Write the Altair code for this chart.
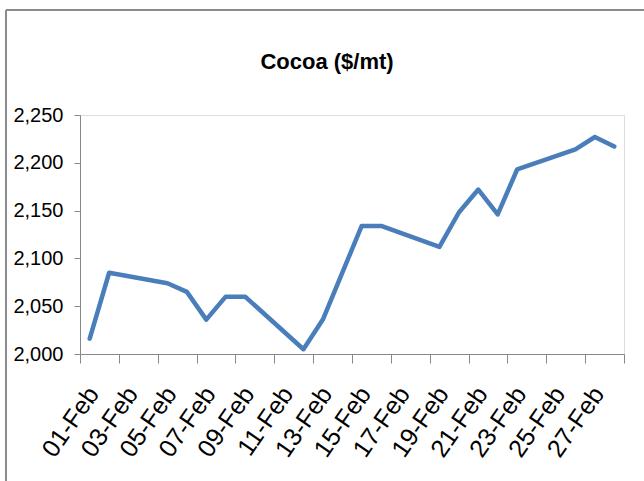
import altair as alt
import pandas as pd

# Trading days in February and cocoa price ($/mt)
days = [1, 2, 5, 6, 7, 8, 9, 12, 13, 15, 16, 19, 20, 21, 22, 23, 26, 27, 28]
prices = [2016, 2085, 2074, 2065, 2036, 2060, 2060, 2005, 2036, 2134, 2134, 2112, 2148, 2172, 2146, 2193, 2214, 2227, 2217]
y_ticks = [2000, 2050, 2100, 2150, 2200, 2250]
x_ticks = [0.5 + 2 * i for i in range(15)]

df = pd.DataFrame({"day": days, "price": prices})

AXIS_GRAY = "#8c8c8c"
FONT = "Liberation Sans"

line = alt.Chart(df).mark_line(
    color="#4a7ebb", strokeWidth=4.5, strokeJoin="round", strokeCap="round"
).encode(
    x=alt.X(
        "day:Q",
        scale=alt.Scale(domain=[0.5, 28.5], nice=False, zero=False),
        axis=alt.Axis(
            title=None,
            values=x_ticks,
            labelExpr="datum.value < 28 ? pad(toString(floor(datum.value + 0.5)), 2, '0', 'left') + '-Feb' : ''",
            labelAngle=-55,
            labelAlign="right",
            labelBaseline="middle",
            labelOffset=13,
            labelPadding=26,
            tickSize=9,
            labelFontSize=25,
            labelOverlap=False,
            grid=False,
        ),
    ),
    y=alt.Y(
        "price:Q",
        scale=alt.Scale(domain=[2000, 2250], nice=False, zero=False),
        axis=alt.Axis(
            title=None,
            values=y_ticks,
            format=",.0f",
            tickSize=6,
            labelPadding=11,
            labelFontSize=20,
            grid=False,
        ),
    ),
)

border = alt.Chart(alt.Data(values=[{}])).mark_rule(
    color=AXIS_GRAY, strokeWidth=2
)
left_border = border.encode(x=alt.value(-74), y=alt.value(-105), y2=alt.value(370))
top_border = border.encode(x=alt.value(-74), x2=alt.value(570), y=alt.value(-105))

chart = alt.layer(line, left_border, top_border).properties(
    width=544,
    height=239,
    autosize=alt.AutoSizeParams(type="none"),
    padding={"left": 80, "top": 115, "right": 20, "bottom": 127},
    title=alt.TitleParams(
        "Cocoa ($/mt)",
        font=FONT,
        fontSize=22,
        fontWeight="bold",
        color="#000000",
        anchor="middle",
        baseline="bottom",
        dx=-25,
        offset=-87,
    ),
).configure_view(stroke=None).configure_axis(
    domainColor=AXIS_GRAY,
    domainWidth=2,
    tickColor=AXIS_GRAY,
    tickWidth=2,
    labelFont=FONT,
    labelColor="#404040",
).configure(background="white")

chart.save("out.html", embed_options={"renderer": "svg", "actions": False})
